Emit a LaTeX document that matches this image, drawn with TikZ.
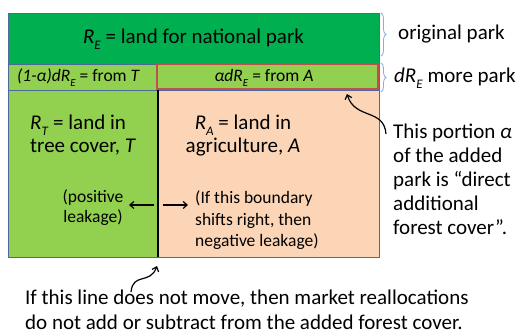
\documentclass[tikz,border=0pt]{standalone}
\usepackage{fontspec}
\usepackage{graphicx}
\setmainfont{Carlito}
\usetikzlibrary{arrows.meta,decorations.pathreplacing}
\definecolor{parkgreen}{HTML}{00B050}
\definecolor{lightgreen}{HTML}{92D050}
\definecolor{peach}{HTML}{FBD5B5}
\definecolor{edgeblue}{HTML}{4A6A9B}
\definecolor{boxred}{HTML}{C0504D}
\definecolor{bracecol}{HTML}{8FAADC}
\newcommand\lsub[1]{\raisebox{-0.24em}{\scalebox{0.62}{#1}}}
\begin{document}
\begin{tikzpicture}[x=1pt,y=-1pt,
  bigtxt/.style={font=\fontsize{21}{23}\selectfont, inner sep=0pt},
  midtxt/.style={font=\fontsize{17.5}{20}\selectfont, inner sep=0pt},
  region/.style={draw=edgeblue, line width=0.8pt},
  callout/.style={-{Straight Barb[length=4pt,width=7pt]}, line width=1.2pt, black},
  bracestyle/.style={draw=bracecol, line width=0.8pt, decorate, decoration={brace, amplitude=5pt}}
]
\useasboundingbox (0,0) rectangle (523,336);
\fill[white] (0,0) rectangle (523,336);
% regions
\path[region, fill=parkgreen] (8,13) rectangle (379,64);
\path[region, fill=lightgreen] (8,64) rectangle (157,90);
\path[region, fill=lightgreen] (157,64) rectangle (379,90);
\path[region, fill=lightgreen] (8,90) rectangle (157,257);
\path[region, fill=peach] (157,90) rectangle (379,257);
\draw[boxred, line width=2pt] (157,64) rectangle (378,89);
\draw[line width=2pt] (158,90) -- (158,257);
% braces
\path[bracestyle] (381,13) -- (381,56);
\path[bracestyle] (381,63) -- (381,92);
% texts
\node[bigtxt, anchor=base] (park) at (193.5,44) {\textit{R}\lsub{\textit{E}} = land for national park};
\node[midtxt, anchor=base] (fromT) at (78.5,82) {\textit{(1-α)dR}\lsub{\textit{E}} = from \textit{T}};
\node[midtxt, anchor=base] (fromA) at (264,82) {\textit{αdR}\lsub{\textit{E}} = from \textit{A}};
\node[bigtxt, anchor=base west] (orig) at (398,40) {original park};
\node[bigtxt, anchor=base west] (more) at (394,83) {\textit{dR}\lsub{\textit{E}} more park};
\node[bigtxt, anchor=base west, align=left] (tree) at (30,153) {\textit{R}\lsub{\textit{T}} = land in\\tree cover, \textit{T}};
\node[bigtxt, anchor=base, align=center] (agri) at (243,153) {\textit{R}\lsub{\textit{A}} = land in\\agriculture, \textit{A}};
\node[midtxt, anchor=base, align=center] (pos) at (93,223) {(positive\\leakage)};
\node[midtxt, font=\fontsize{17.5}{21.5}\selectfont, anchor=base west, align=left] (neg) at (195,247) {(If this boundary\\shifts right, then\\negative leakage)};
\node[bigtxt, font=\fontsize{21}{24}\selectfont, anchor=base west, align=left] (portion) at (393,235) {This portion \textit{α}\\of the added\\park is “direct\\additional\\forest cover”.};
\node[bigtxt, font=\fontsize{21}{25}\selectfont, anchor=base west, align=left] (bottom) at (25,330) {If this line does not move, then market reallocations\\do not add or subtract from the added forest cover.};
% connectors
\coordinate (tipA) at (347,94);
\coordinate (startA) at (386,134);
\draw[callout] (startA) .. controls (384,108) and (355,120) .. (tipA);
\coordinate (startB) at (131,292);
\coordinate (tipB) at (157,266);
\draw[callout] (startB) .. controls (133,272) and (150,285) .. (tipB);
\coordinate (lineL) at (154,205);
\coordinate (posR) at (129,205);
\draw[callout] (lineL) -- (posR);
\coordinate (lineR) at (163,205);
\coordinate (negL) at (188,205);
\draw[callout] (lineR) -- (negL);
\end{tikzpicture}
\end{document}
